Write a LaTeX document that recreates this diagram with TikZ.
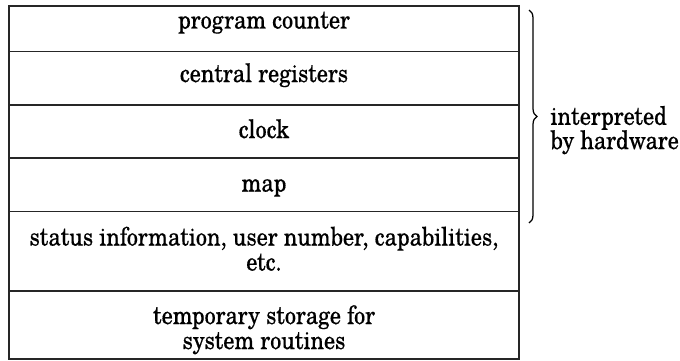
\documentclass[tikz,border=0pt]{standalone}
\usepackage{fontspec}
\setmainfont[FakeStretch=0.87, FakeBold=0.35]{texgyreschola-regular.otf}
\usetikzlibrary{decorations.pathreplacing}
\tikzset{
  cell/.style={anchor=base, align=center, inner sep=0pt, font=\fontsize{10.2}{10}\selectfont},
  rule/.style={line width=0.6pt, draw=black!85},
  side/.style={anchor=base west, align=left, inner sep=0pt, font=\fontsize{10.2}{9.7}\selectfont},
}
\begin{document}
\begin{tikzpicture}[x=0.4pt, y=-0.4pt]
\useasboundingbox (0,0) rectangle (680,360);
% frame and row separators
\draw[rule] (9,6) rectangle (519,359);
\foreach \yy in {51.5,105,158,211.5,291} { \draw[rule] (9,\yy) -- (519,\yy); }
% cell texts (anchor = baseline of last line)
\node[cell] (pc)   at (264,28.5) {program counter};
\node[cell] (creg) at (264,82)   {central registers};
\node[cell] (clk)  at (264,138)  {clock};
\node[cell] (map)  at (264,191.5){map};
\node[cell] (stat) at (264,270.5){status information, user number, capabilities,\\etc.};
\node[cell] (tmp)  at (264,349)  {temporary storage for\\system routines};
% brace
\coordinate (btop) at (529,10);
\coordinate (bbot) at (529,223);
\draw[line width=0.5pt, decorate, decoration={brace, amplitude=3.2pt}] (btop) -- (bbot);
\node[side] (hw) at (550,149) {interpreted\\by hardware};
\end{tikzpicture}
\end{document}
